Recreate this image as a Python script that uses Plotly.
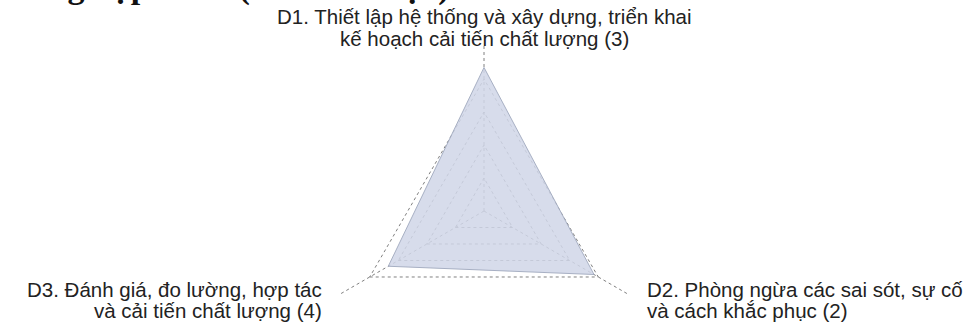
import plotly.graph_objects as go

# values (scale 0-5)
categories = ["D1", "D2", "D3"]
scores = [4.35, 3.85, 3.35]

label_d1 = ["D1. Thiết lập hệ thống và xây dựng, triển khai", "kế hoạch cải tiến chất lượng (3)"]
label_d2 = ["D2. Phòng ngừa các sai sót, sự cố", "và cách khắc phục (2)"]
label_d3 = ["D3. Đánh giá, đo lường, hợp tác", "và cải tiến chất lượng (4)"]
heading = "Tổng hợp điểm (theo lĩnh vực)"

W, H = 978, 380
# polar circle: centre (484, 211), radius 165 in px
cx, cy, R = 484, 211, 165


def px(x):
    return x / W


def py(y):
    return 1 - y / H


fig = go.Figure()

fig.add_trace(go.Scatterpolar(
    r=scores + scores[:1],
    theta=categories + categories[:1],
    mode="lines",
    fill="toself",
    fillcolor="rgba(208,214,232,0.85)",
    line=dict(color="rgba(160,168,190,0.9)", width=1),
    hoverinfo="skip",
))

fig.update_layout(
    width=W,
    height=H,
    margin=dict(l=0, r=0, t=0, b=0),
    paper_bgcolor="white",
    plot_bgcolor="white",
    showlegend=False,
    font=dict(family="Liberation Sans, Arial, sans-serif", size=20.5, color="#222"),
    polar=dict(
        domain=dict(x=[px(cx - R), px(cx + R)], y=[py(cy + R), py(cy - R)]),
        gridshape="linear",
        bgcolor="white",
        radialaxis=dict(
            range=[0, 5.001],
            tickvals=[1, 2, 3, 4, 5],
            showticklabels=False,
            ticks="",
            showline=False,
            gridcolor="#808080",
            griddash="dot",
            gridwidth=1,
        ),
        angularaxis=dict(
            rotation=90,
            direction="clockwise",
            showticklabels=False,
            ticks="",
            showline=False,
            gridcolor="#808080",
            griddash="dot",
        ),
    ),
)


def add_label(lines, x, anchor, baselines):
    for text, base in zip(lines, baselines):
        fig.add_annotation(text=text, xref="paper", yref="paper",
                           x=px(x), y=py(base - 7), xanchor=anchor, yanchor="middle",
                           showarrow=False)


add_label(label_d1, cx, "center", [23, 46])
add_label(label_d2, 645, "left", [296, 317])
add_label(label_d3, 324, "right", [296, 317])

# cropped heading from the scanned page, only its lower edge shows
fig.add_annotation(text="<b>" + heading + "</b>", xref="paper", yref="paper",
                   x=px(7), y=py(-13), xanchor="left", yanchor="middle",
                   showarrow=False,
                   font=dict(family="Liberation Serif, serif", size=34, color="#111"))

fig.write_html("out.html", config={"displayModeBar": False},
               post_script="document.body.style.margin='0';document.body.style.overflow='hidden';")
